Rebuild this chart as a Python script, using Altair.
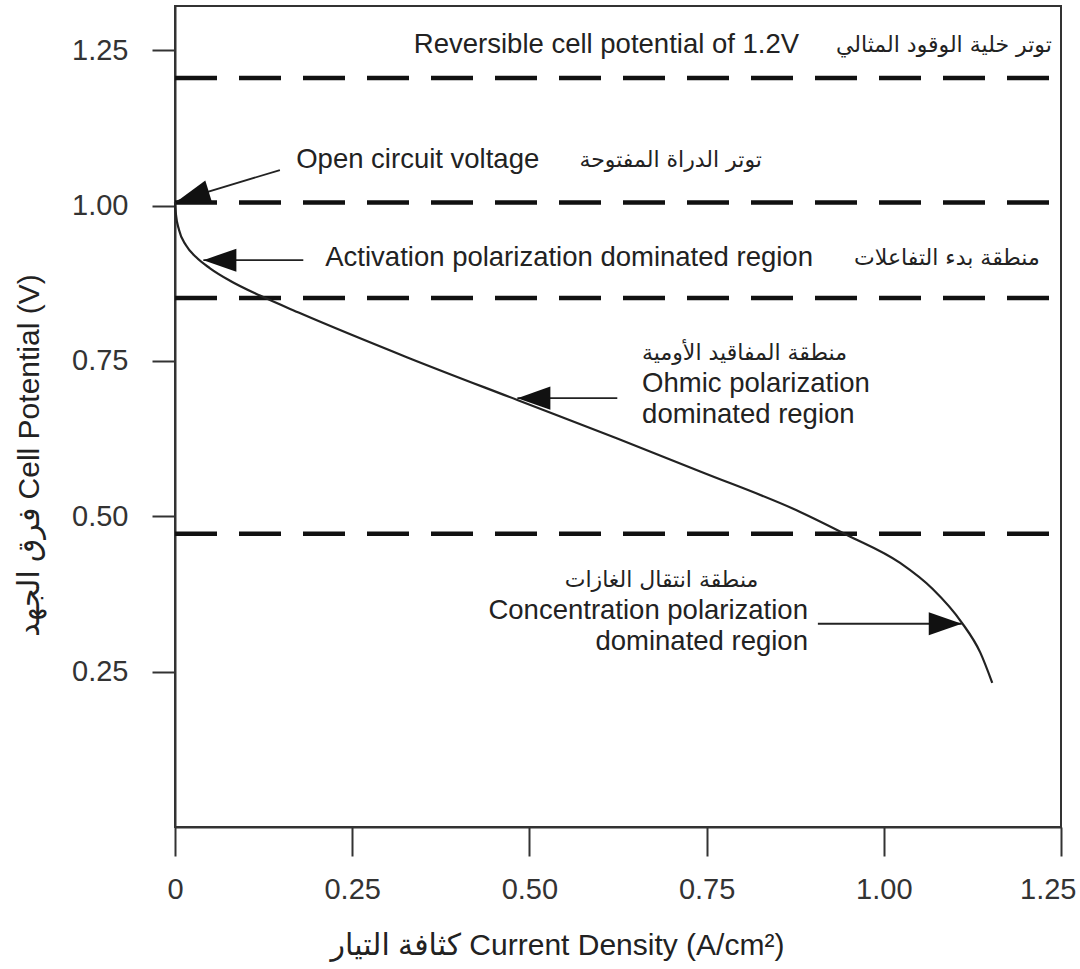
import altair as alt
import pandas as pd

# ---- data ----
curve_x = [0.0, 0.0014, 0.0056, 0.0155, 0.0296, 0.0494, 0.0776, 0.120, 0.176, 0.327,
           0.483, 0.624, 0.741, 0.882, 0.948, 1.023, 1.069, 1.110, 1.136, 1.153]
curve_y = [1.005, 0.985, 0.961, 0.936, 0.917, 0.899, 0.879, 0.855, 0.827, 0.756,
           0.687, 0.625, 0.572, 0.507, 0.470, 0.425, 0.383, 0.329, 0.281, 0.232]

level_y = [1.205, 1.005, 0.851, 0.472]
level_x_start = [0.0, 0.0, 0.0, 0.0]
level_x_end = [1.25, 1.25, 1.25, 1.25]

x_ticks = [0, 0.25, 0.5, 0.75, 1.0, 1.25]
y_ticks = [0.25, 0.5, 0.75, 1.0, 1.25]

en_left_text = ["Reversible cell potential of 1.2V", "Open circuit voltage",
                "Activation polarization dominated region", "Ohmic polarization",
                "dominated region"]
en_left_x = [0.337, 0.171, 0.212, 0.659, 0.659]
en_left_y = [1.258, 1.073, 0.916, 0.712, 0.663]

en_right_text = ["Concentration polarization", "dominated region"]
en_right_x = [0.893, 0.893]
en_right_y = [0.348, 0.298]

ar_text = ["توتر خلية الوقود المثالي", "توتر الدراة المفتوحة", "منطقة بدء التفاعلات",
           "منطقة المفاقيد الأومية", "منطقة انتقال الغازات"]
ar_x = [1.237, 0.828, 1.220, 0.948, 0.823]
ar_y = [1.258, 1.073, 0.916, 0.762, 0.397]

arrow_tail_x = [0.148, 0.181, 0.624, 0.907]
arrow_tail_y = [1.057, 0.912, 0.690, 0.327]
arrow_tip_x = [0.003, 0.040, 0.483, 1.110]
arrow_tip_y = [1.007, 0.912, 0.690, 0.327]
arrow_angle = [253, 270, 270, 90]

x_title = "كثافة التيار Current Density (A/cm²)"
y_title = "فرق الجهد Cell Potential (V)"

# ---- tables ----
curve_df = pd.DataFrame({"x": curve_x, "y": curve_y, "i": range(len(curve_x))})
level_df = pd.DataFrame({"y": level_y, "xa": level_x_start, "xb": level_x_end})
enl_df = pd.DataFrame({"x": en_left_x, "y": en_left_y, "t": en_left_text})
enr_df = pd.DataFrame({"x": en_right_x, "y": en_right_y, "t": en_right_text})
ar_df = pd.DataFrame({"x": ar_x, "y": ar_y, "t": ar_text})
arrow_df = pd.DataFrame({"x": arrow_tail_x, "y": arrow_tail_y,
                         "x2": arrow_tip_x, "y2": arrow_tip_y, "a": arrow_angle})

EN = "Liberation Sans, Arial, DejaVu Sans"
AR = "DejaVu Sans"
INK = "#222222"

xscale = alt.Scale(domain=[0, 1.25], nice=False, zero=False)
yscale = alt.Scale(domain=[0, 1.321], nice=False, zero=False)

xaxis = alt.Axis(values=x_ticks,
                 labelExpr="datum.value == 0 ? '0' : format(datum.value, '.2f')",
                 labelAlign={"condition": {"test": "datum.value >= 1.2", "value": "right"},
                             "value": "center"},
                 labelOffset={"condition": {"test": "datum.value >= 1.2", "value": 15},
                              "value": 0},
                 tickSize=29, tickWidth=2, tickColor="#333", domainColor="#333",
                 domainWidth=2, labelFontSize=29, labelFont=EN, labelColor="#333",
                 labelPadding=19, grid=False, labelOverlap=False, labelFlush=False,
                 title=x_title, titleFontSize=30, titleFont=EN, titleFontWeight="normal",
                 titleColor=INK, titleX=382, titleY=118, titleBaseline="middle",
                 titleAlign="center")
yaxis = alt.Axis(values=y_ticks, format=".2f",
                 tickSize=23, tickWidth=2, tickColor="#333", domainColor="#333",
                 domainWidth=2, labelFontSize=29, labelFont=EN, labelColor="#333",
                 labelPadding=24, grid=False, labelOverlap=False, labelFlush=False,
                 title=y_title, titleFontSize=30, titleFont=EN, titleFontWeight="normal",
                 titleColor=INK, titleX=-146, titleY=449, titleBaseline="middle",
                 titleAlign="center", titleAngle=270)

X = alt.X("x:Q", scale=xscale, axis=xaxis)
Y = alt.Y("y:Q", scale=yscale, axis=yaxis)

curve = alt.Chart(curve_df).mark_line(color=INK, strokeWidth=2.2,
                                      interpolate="monotone").encode(
    x=X, y=Y, order="i:Q")

levels = alt.Chart(level_df).mark_rule(color="#111", strokeWidth=4.5,
                                       strokeDash=[42, 22]).encode(
    x=alt.X("xa:Q", scale=xscale), x2="xb:Q", y=alt.Y("y:Q", scale=yscale))

arrow_lines = alt.Chart(arrow_df).mark_rule(color=INK, strokeWidth=1.8).encode(
    x=alt.X("x:Q", scale=xscale), y=alt.Y("y:Q", scale=yscale),
    x2="x2:Q", y2="y2:Q")

heads = alt.Chart(arrow_df).mark_point(
    shape="M0,0L0.7,2L-0.7,2Z", filled=True, color="#111", opacity=1,
    size=1089, strokeWidth=0).encode(
    x=alt.X("x2:Q", scale=xscale), y=alt.Y("y2:Q", scale=yscale),
    angle=alt.Angle("a:Q", scale=None))

t_left = alt.Chart(enl_df).mark_text(align="left", baseline="middle", font=EN,
                                     fontSize=27.5, color=INK).encode(
    x=alt.X("x:Q", scale=xscale), y=alt.Y("y:Q", scale=yscale), text="t:N")
t_right = alt.Chart(enr_df).mark_text(align="right", baseline="middle", font=EN,
                                      fontSize=27.5, color=INK).encode(
    x=alt.X("x:Q", scale=xscale), y=alt.Y("y:Q", scale=yscale), text="t:N")
t_ar = alt.Chart(ar_df).mark_text(align="right", baseline="middle", font=AR,
                                  fontSize=22, color=INK).encode(
    x=alt.X("x:Q", scale=xscale), y=alt.Y("y:Q", scale=yscale), text="t:N")

chart = alt.layer(levels, curve, arrow_lines, heads, t_left, t_right, t_ar).properties(
    width=886, height=821,
    autosize=alt.AutoSizeParams(type="none"),
    padding={"left": 175, "top": 6, "right": 19, "bottom": 142},
    background="white",
).configure_view(stroke="#333", strokeWidth=2)

chart.save("out.html", embed_options={"renderer": "svg", "actions": False})
